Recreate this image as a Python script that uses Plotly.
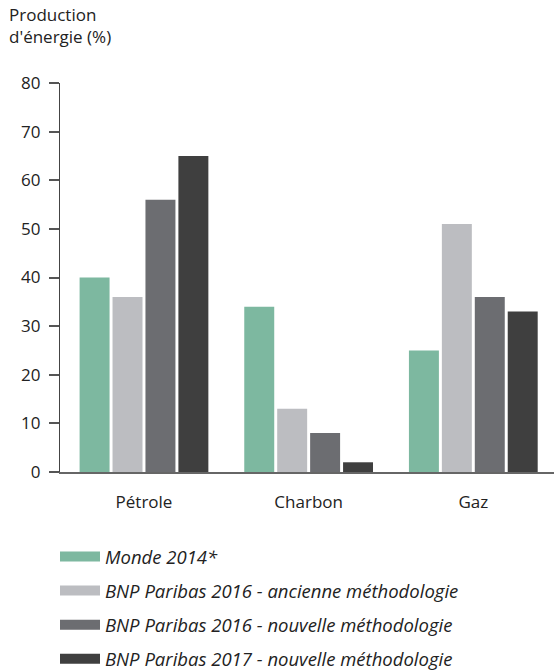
import plotly.graph_objects as go

categories = ["Pétrole", "Charbon", "Gaz"]
series_names = [
    "Monde 2014*",
    "BNP Paribas 2016 - ancienne méthodologie",
    "BNP Paribas 2016 - nouvelle méthodologie",
    "BNP Paribas 2017 - nouvelle méthodologie",
]
monde_2014 = [40, 34, 25]
bnp_2016_ancienne = [36, 13, 51]
bnp_2016_nouvelle = [56, 8, 36]
bnp_2017_nouvelle = [65, 2, 33]
series_values = [monde_2014, bnp_2016_ancienne, bnp_2016_nouvelle, bnp_2017_nouvelle]
colors = ["#7db8a0", "#bcbdc1", "#6c6d71", "#3f3f3f"]
y_ticks = [0, 10, 20, 30, 40, 50, 60, 70, 80]
y_title = "Production<br>d'énergie (%)"

FONT = "Open Sans"
TXT = "#222222"
fig = go.Figure()
for i, (name, vals, col) in enumerate(zip(series_names, series_values, colors)):
    fig.add_trace(go.Bar(x=categories, y=vals, name=name, marker_color=col,
                         marker_line_width=0, showlegend=False))
# legend-only entries (no data) to get wide rectangular swatches
for i, (name, col) in enumerate(zip(series_names, colors)):
    fig.add_trace(go.Scatter(x=[None], y=[None], name=name, mode="lines",
                             line=dict(color=col, width=22), legendgroup=str(i),
                             showlegend=True, hoverinfo="skip"))

fig.update_layout(
    width=554, height=672,
    margin=dict(l=60, r=0, t=83, b=200, autoexpand=False),
    plot_bgcolor="white", paper_bgcolor="white",
    barmode="group", bargap=0.2, bargroupgap=0.09,
    font=dict(family=FONT, size=16, color=TXT),
    showlegend=True,
    legend=dict(
        orientation="v", xref="container", yref="container",
        x=55 / 554, y=1 - 538 / 672, xanchor="left", yanchor="top",
        font=dict(family=FONT, size=18.5, color=TXT, style="italic"),
        tracegroupgap=7, itemwidth=40, traceorder="grouped",
        bgcolor="rgba(0,0,0,0)",
    ),
    annotations=[dict(
        text=y_title, xref="paper", yref="paper", x=-53 / 494, y=(389 + 82) / 389,
        xanchor="left", yanchor="top", align="left", showarrow=False,
        font=dict(family=FONT, size=17, color=TXT),
    )],
    xaxis=dict(
        range=[-0.51, 2.49], showgrid=False, zeroline=False,
        showline=True, linecolor="#666666", linewidth=1.5,
        ticks="", ticklabelstandoff=14, tickangle=0,
        tickfont=dict(family=FONT, size=17, color=TXT),
    ),
    yaxis=dict(
        range=[0, 80], tickvals=y_ticks, showgrid=False, zeroline=False,
        showline=True, linecolor="#444444", linewidth=1.2,
        ticks="outside", ticklen=10, tickwidth=1.5, tickcolor="#555555",
        ticklabelstandoff=5,
        tickfont=dict(family=FONT, size=17, color=TXT),
    ),
    yaxis2=dict(
        overlaying="y", anchor="x", side="left", range=[0, 80], tickvals=y_ticks,
        showgrid=False, zeroline=False, showline=False,
        ticks="inside", ticklen=11, tickwidth=1.5, tickcolor="#555555",
        showticklabels=False,
    ),
)

fig.write_html("out.html", config={"displayModeBar": False},
               post_script="document.body.style.margin='0';")
